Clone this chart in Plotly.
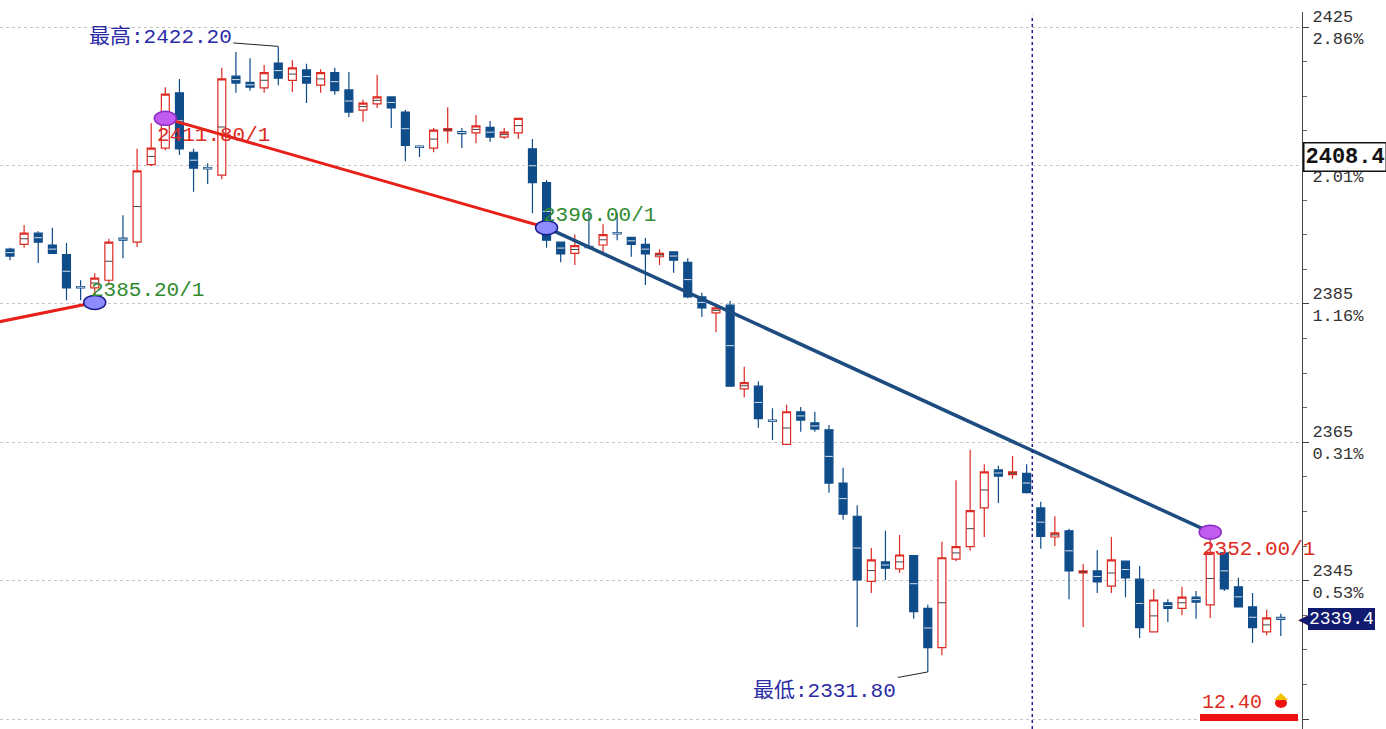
import plotly.graph_objects as go

# ---------------- data ----------------
idx = list(range(91))
opens = [2392.9, 2393.6, 2395.2, 2393.5, 2392.1, 2387.5, 2387.3, 2388.4, 2394.5, 2393.9,
         2405.1, 2407.5, 2415.5, 2406.9, 2404.7, 2403.6, 2417.9, 2417.0, 2416.2, 2419.8,
         2417.3, 2418.8, 2416.6, 2418.4, 2415.9, 2413.0, 2413.9, 2414.9, 2412.7, 2407.8,
         2407.5, 2410.0, 2409.9, 2409.7, 2410.5, 2409.1, 2409.7, 2407.4, 2402.5, 2393.9,
         2392.3, 2393.3, 2393.5, 2395.3, 2394.6, 2393.6, 2391.8, 2392.5, 2391.0, 2386.0,
         2383.7, 2384.8, 2372.7, 2373.1, 2368.2, 2364.7, 2369.4, 2367.8, 2366.8, 2359.1,
         2354.3, 2344.9, 2347.7, 2346.7, 2348.6, 2341.0, 2335.3, 2348.1, 2349.9, 2355.5,
         2361.0, 2360.3, 2360.5, 2355.5, 2351.3, 2352.2, 2346.1, 2346.4, 2344.2, 2347.8,
         2345.2, 2337.6, 2341.8, 2341.0, 2342.6, 2341.5, 2349.0, 2344.1, 2341.2, 2337.6,
         2339.7]
highs = [2393.1, 2396.4, 2395.5, 2396.0, 2393.8, 2388.4, 2389.4, 2394.4, 2397.8, 2407.4,
         2411.1, 2416.3, 2417.5, 2407.4, 2405.3, 2419.1, 2421.4, 2420.5, 2419.5, 2422.2,
         2420.2, 2419.7, 2418.9, 2419.1, 2418.5, 2414.5, 2418.1, 2414.9, 2413.0, 2407.9,
         2410.4, 2413.4, 2410.4, 2412.3, 2411.4, 2410.4, 2411.9, 2408.8, 2402.9, 2393.9,
         2395.0, 2398.4, 2396.5, 2398.1, 2394.7, 2394.5, 2392.9, 2392.6, 2391.6, 2386.6,
         2384.6, 2385.4, 2375.9, 2373.8, 2369.9, 2370.4, 2370.1, 2369.4, 2367.5, 2361.3,
         2355.9, 2349.7, 2352.2, 2351.6, 2348.7, 2341.5, 2350.6, 2359.5, 2363.9, 2361.8,
         2361.6, 2363.0, 2361.8, 2356.4, 2354.3, 2352.5, 2347.4, 2349.4, 2351.3, 2347.9,
         2347.1, 2343.8, 2342.3, 2344.1, 2343.5, 2352.0, 2349.1, 2345.4, 2343.2, 2340.8,
         2340.2]
lows = [2391.3, 2393.1, 2390.9, 2392.2, 2385.5, 2385.5, 2385.2, 2388.0, 2391.6, 2393.2,
        2404.9, 2407.2, 2406.5, 2401.2, 2402.3, 2403.0, 2415.5, 2415.8, 2415.5, 2416.6,
        2415.6, 2414.0, 2415.5, 2415.2, 2412.0, 2411.3, 2413.3, 2410.4, 2405.6, 2406.2,
        2406.9, 2408.2, 2407.5, 2408.2, 2408.4, 2408.8, 2408.8, 2398.1, 2393.1, 2391.0,
        2390.6, 2393.0, 2392.3, 2394.2, 2391.8, 2387.7, 2390.6, 2389.5, 2385.8, 2383.1,
        2380.9, 2373.0, 2371.5, 2367.1, 2365.3, 2364.6, 2366.5, 2366.5, 2357.7, 2353.8,
        2338.3, 2343.2, 2345.1, 2346.1, 2339.5, 2331.8, 2334.2, 2347.8, 2349.3, 2351.3,
        2356.2, 2359.7, 2357.6, 2349.6, 2350.0, 2342.3, 2338.3, 2343.2, 2343.2, 2342.6,
        2336.7, 2337.5, 2339.0, 2340.0, 2339.5, 2339.6, 2343.5, 2341.1, 2336.0, 2337.1,
        2337.0]
closes = [2391.9, 2395.2, 2393.9, 2392.3, 2387.3, 2387.3, 2388.7, 2393.9, 2394.2, 2404.2,
          2407.5, 2415.3, 2407.4, 2404.6, 2404.5, 2417.5, 2416.9, 2416.3, 2418.4, 2417.6,
          2419.1, 2416.9, 2418.4, 2415.8, 2412.7, 2414.0, 2414.9, 2413.3, 2407.9, 2407.6,
          2410.1, 2410.3, 2409.6, 2410.7, 2409.1, 2409.8, 2411.8, 2402.5, 2394.2, 2392.2,
          2393.4, 2393.1, 2395.0, 2395.1, 2393.6, 2392.2, 2392.3, 2391.3, 2386.0, 2384.4,
          2384.4, 2373.1, 2373.6, 2368.4, 2368.0, 2369.4, 2368.2, 2366.9, 2359.1, 2354.6,
          2345.1, 2348.0, 2346.8, 2348.7, 2340.5, 2335.3, 2348.3, 2349.9, 2355.1, 2360.7,
          2360.1, 2360.7, 2357.7, 2351.4, 2351.9, 2346.4, 2346.4, 2344.8, 2348.0, 2345.4,
          2338.2, 2342.2, 2341.0, 2342.6, 2341.9, 2349.1, 2343.8, 2341.2, 2338.2, 2339.6,
          2339.4]

# price axis ticks
tick_prices = [2325, 2345, 2365, 2385, 2405, 2425]
base_price = 2357.6
cross_price = 2408.4

# trend lines: (index, price)
red_line1_x = [-1.0, 6]
red_line1_y = [2382.3, 2385.2]
red_line2_x = [11, 38]
red_line2_y = [2411.8, 2396.0]
blue_line_x = [38, 85]
blue_line_y = [2396.0, 2352.0]

# point marks: index, price, label, kind
mark_x = [6, 11, 38, 85]
mark_y = [2385.2, 2411.8, 2396.0, 2352.0]
mark_label = ["2385.20/1", "2411.80/1", "2396.00/1", "2352.00/1"]
mark_kind = ["low", "high", "low", "high"]

high_idx, high_val = 19, 2422.20
low_idx, low_val = 65, 2331.80
cursor_idx = 72.4
side_value = "12.40"

# ---------------- styling ----------------
RED = "#dd2a22"
BLUE = "#0f4c8a"
GREEN = "#2f8a2f"
NAVY_TXT = "#2b2ba6"
MONO = "Liberation Mono, DejaVu Sans Mono, Noto Sans CJK SC, monospace"

W, H = 1386, 729
ML, MR, MT, MB = 0, 84, 12, 0
plot_w = W - ML - MR
plot_h = H - MT - MB
px_per_bar = 14.12
first_px = 10
px_per_unit = 6.92
top_price = 2425 + (27 - MT) / px_per_unit
x_lo = -first_px / px_per_bar
x_hi = x_lo + plot_w / px_per_bar
y_hi = top_price
y_lo = top_price - plot_h / px_per_unit


def px_x(p):
    return p / plot_w


def px_y(p):
    return (H - p) / plot_h


fig = go.Figure()

fig.add_trace(go.Candlestick(
    x=idx, open=opens, high=highs, low=lows, close=closes,
    increasing=dict(line=dict(color=RED, width=1.2), fillcolor="white"),
    decreasing=dict(line=dict(color=BLUE, width=1.2), fillcolor=BLUE),
    whiskerwidth=0, hoverinfo="skip", showlegend=False,
))

# midpoint ticks inside the bodies
half = 0.27
mx_up, my_up, mx_dn, my_dn = [], [], [], []
for i, o, c in zip(idx, opens, closes):
    m = (o + c) / 2
    if c > o:
        mx_up += [i - half, i + half, None]
        my_up += [m, m, None]
    else:
        mx_dn += [i - half, i + half, None]
        my_dn += [m, m, None]
fig.add_trace(go.Scatter(x=mx_dn, y=my_dn, mode="lines", line=dict(color="#d8e0ea", width=1),
                         hoverinfo="skip", showlegend=False))
fig.add_trace(go.Scatter(x=mx_up, y=my_up, mode="lines", line=dict(color="#444444", width=1),
                         hoverinfo="skip", showlegend=False))

# trend lines
fig.add_trace(go.Scatter(x=red_line1_x, y=red_line1_y, mode="lines", line=dict(color="#e8201a", width=3),
                         hoverinfo="skip", showlegend=False))
fig.add_trace(go.Scatter(x=red_line2_x, y=red_line2_y, mode="lines", line=dict(color="#e8201a", width=3),
                         hoverinfo="skip", showlegend=False))
fig.add_trace(go.Scatter(x=blue_line_x, y=blue_line_y, mode="lines", line=dict(color="#1d4c80", width=3.5),
                         hoverinfo="skip", showlegend=False))

shapes = []
# vertical cursor
shapes.append(dict(type="line", xref="x", yref="paper", x0=cursor_idx, x1=cursor_idx, y0=0, y1=0.996,
                   line=dict(color="#23238a", width=1.5, dash="dot")))
# ellipse markers
for xi, yi, kind in zip(mark_x, mark_y, mark_kind):
    if kind == "high":
        fill, edge = "#c25cf0", "#8a2bc2"
    else:
        fill, edge = "#8c8cff", "#1c1c8c"
    shapes.append(dict(type="circle", xref="x", yref="y", xsizemode="pixel", ysizemode="pixel",
                       xanchor=xi, yanchor=yi, x0=-11, x1=11, y0=-7, y1=7,
                       fillcolor=fill, line=dict(color=edge, width=1.5)))
# bottom-right red bar
shapes.append(dict(type="rect", xref="paper", yref="paper",
                   x0=px_x(1200), x1=px_x(1298), y0=px_y(721), y1=px_y(714),
                   fillcolor="#ee1111", line=dict(width=0)))
# small icon next to the value
shapes.append(dict(type="circle", xref="paper", yref="paper",
                   x0=px_x(1275), x1=px_x(1287), y0=px_y(708), y1=px_y(698),
                   fillcolor="#ee1111", line=dict(width=0)))
shapes.append(dict(type="path", xref="paper", yref="paper",
                   path="M %f %f L %f %f L %f %f Z" % (px_x(1274), px_y(700), px_x(1281), px_y(693),
                                                       px_x(1288), px_y(700)),
                   fillcolor="#f5c400", line=dict(width=0)))

annotations = []
# mark labels
label_off = {"low": (-6, 12), "high": (-10, -17)}
for xi, yi, lab, kind in zip(mark_x, mark_y, mark_label, mark_kind):
    dx, dy = label_off[kind]
    col = GREEN if kind == "low" else RED
    annotations.append(dict(x=xi, y=yi, xref="x", yref="y", text=lab, showarrow=False,
                            xanchor="left", yanchor="middle", xshift=dx, yshift=dy,
                            font=dict(family=MONO, size=21, color=col)))
# high / low annotations
annotations.append(dict(x=high_idx, y=high_val, xref="x", yref="y",
                        text="最高:%.2f" % high_val, showarrow=True, arrowhead=0,
                        arrowcolor="#222222", arrowwidth=1, ax=-118, ay=-9,
                        font=dict(family=MONO, size=21, color=NAVY_TXT)))
annotations.append(dict(x=low_idx, y=low_val, xref="x", yref="y",
                        text="最低:%.2f" % low_val, showarrow=True, arrowhead=0,
                        arrowcolor="#222222", arrowwidth=1, ax=-103, ay=19,
                        font=dict(family=MONO, size=21, color=NAVY_TXT)))
# right side boxes
annotations.append(dict(x=1, y=cross_price, xref="paper", yref="y", xanchor="left", yanchor="top",
                        text="<b>%.1f</b>" % cross_price, showarrow=False, xshift=1,
                        bgcolor="white", bordercolor="#111111", borderwidth=1.5, borderpad=1,
                        font=dict(family=MONO, size=22, color="#111111")))
annotations.append(dict(x=1, y=closes[-1], xref="paper", yref="y", xanchor="left", yanchor="middle",
                        text="%.1f" % closes[-1], showarrow=False, xshift=6,
                        bgcolor="#101a6e", bordercolor="#101a6e", borderwidth=1, borderpad=0,
                        font=dict(family=MONO, size=18, color="white")))
annotations.append(dict(x=1, y=closes[-1], xref="paper", yref="y", xanchor="right", yanchor="middle",
                        text="◀", showarrow=False, xshift=9,
                        font=dict(family="DejaVu Sans", size=14, color="#101a6e")))
# bottom-right value
annotations.append(dict(x=px_x(1200), y=px_y(702), xref="paper", yref="paper",
                        xanchor="left", yanchor="middle", text=side_value, showarrow=False,
                        font=dict(family=MONO, size=20, color=RED)))

tick_text = []
for p in tick_prices:
    pct = "%.2f%%" % abs((p / base_price - 1) * 100)
    if p == tick_prices[0]:
        tick_text.append("")
    elif abs(p - cross_price) < 5:
        tick_text.append(" <br>" + pct)   # price line hidden behind the cursor box
    else:
        tick_text.append("%d<br>%s" % (p, pct))

fig.update_layout(
    width=W, height=H, autosize=False,
    margin=dict(l=ML, r=MR, t=MT, b=MB, pad=0),
    paper_bgcolor="white", plot_bgcolor="white",
    showlegend=False, hovermode=False,
    boxgap=0.25, boxgroupgap=0.25,
    shapes=shapes, annotations=annotations,
    xaxis=dict(range=[x_lo, x_hi], visible=False, rangeslider=dict(visible=False),
               showgrid=False, zeroline=False, fixedrange=True),
    yaxis=dict(range=[y_lo, y_hi], side="right", tickvals=tick_prices, ticktext=tick_text,
               showgrid=True, gridcolor="#c4c4c4", griddash="dot", gridwidth=1,
               showline=True, linecolor="#444444", linewidth=1,
               ticks="outside", ticklen=6, tickcolor="#444444",
               minor=dict(dtick=5, tick0=2325, ticks="outside", ticklen=4, tickcolor="#666666",
                          showgrid=False),
               tickfont=dict(family=MONO, size=17, color="#333333"),
               zeroline=False, fixedrange=True),
)

fig.write_html("out.html", config={"displayModeBar": False},
               post_script="document.body.style.margin='0';document.body.style.overflow='hidden';")
